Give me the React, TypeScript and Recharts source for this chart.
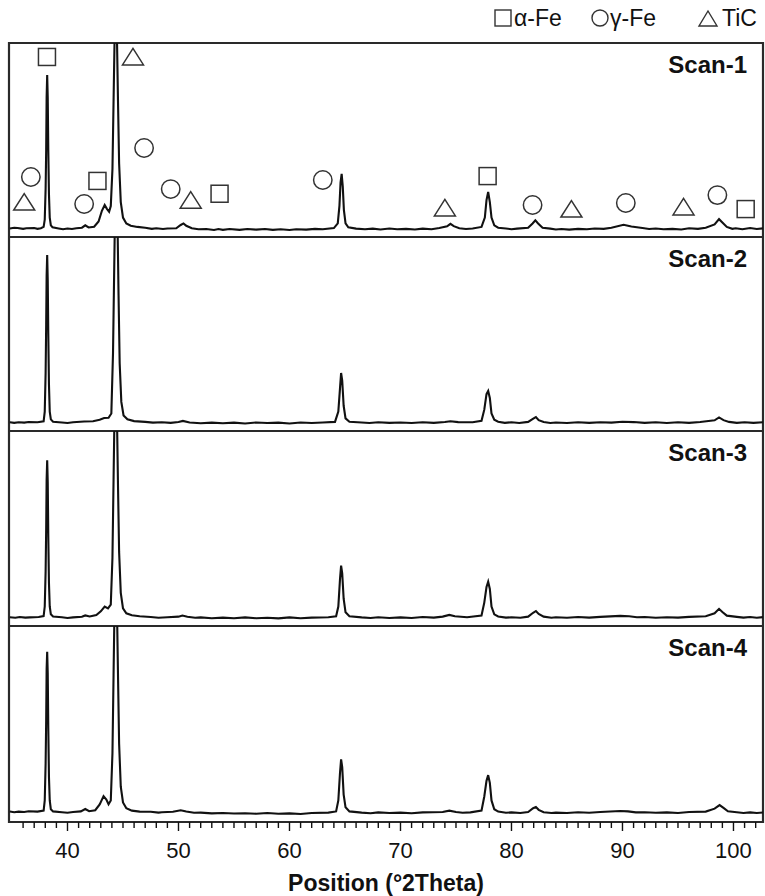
import React from 'react';
import { ComposedChart, Line, Scatter, XAxis, YAxis, ReferenceArea } from 'recharts';

// 2theta range and tick positions
const xDomain = [34.73, 102.66];
const xTicks = [36, 37, 38, 39, 40, 41, 42, 43, 44, 45, 46, 47, 48, 49, 50, 51, 52, 53, 54, 55, 56, 57, 58, 59, 60, 61, 62, 63, 64, 65, 66, 67, 68, 69, 70, 71, 72, 73, 74, 75, 76, 77, 78, 79, 80, 81, 82, 83, 84, 85, 86, 87, 88, 89, 90, 91, 92, 93, 94, 95, 96, 97, 98, 99, 100, 101, 102];

// intensities, % of panel height
const scan1 = [
  [34.8, 4.4], [35.2, 4.8], [35.5, 4.6], [36.0, 4.2], [36.3, 4.5], [37.0, 4.6], [37.3, 4.2], [37.6, 4.5], [37.85, 5.2], [37.95, 9], [38.03, 25], [38.08, 45], [38.12, 72], [38.17, 83.5], [38.22, 72], [38.27, 45], [38.33, 22], [38.4, 10], [38.5, 6], [38.65, 5],
  [39.2, 4.4], [39.6, 4.0], [40.0, 4.4], [40.4, 4.1], [40.8, 4.5], [41.3, 4.8], [41.6, 6.0], [41.9, 4.9], [42.4, 5.3], [42.8, 8], [43.1, 13.5], [43.35, 16.5], [43.55, 14.5], [43.75, 13], [43.9, 16],
  [44.05, 35], [44.15, 70], [44.25, 105], [44.35, 120], [44.45, 105], [44.55, 70], [44.65, 38], [44.8, 18], [45.0, 10], [45.3, 7], [45.7, 5.8], [46.3, 5.2], [47.0, 4.8], [47.6, 4.2], [48.0, 4.5], [48.6, 4.1], [49.0, 4.4], [49.8, 4.5],
  [50.2, 6.2], [50.45, 7.0], [50.7, 5.8], [51.2, 4.5], [51.8, 4.0], [52.5, 4.1], [53.2, 3.6], [53.6, 4.1], [54, 3.7], [54.6, 4.1], [55.5, 3.7], [56.2, 4.1], [57, 3.8], [57.8, 4.1], [58.5, 3.7], [59.2, 4.0], [60, 3.6], [60.6, 4.0], [61.5, 3.8], [62.3, 4.2], [63, 4.0], [64.0, 4.6],
  [64.35, 7], [64.5, 16], [64.6, 28], [64.7, 32.5], [64.8, 26], [64.9, 14], [65.05, 7], [65.3, 5], [66, 4.3], [66.8, 4.0], [67.5, 4.3], [68.2, 3.9], [69, 4.4], [69.7, 4.0], [70.5, 4.2], [71.3, 3.9], [72, 4.3], [72.8, 4.0], [73.5, 4.6],
  [74.2, 5.5], [74.5, 6.8], [74.8, 5.6], [75.3, 4.5], [75.9, 4.1], [76.5, 4.4], [77.3, 5.2], [77.6, 10], [77.75, 19], [77.9, 23.2], [78.05, 18], [78.2, 10], [78.45, 6], [78.8, 4.8],
  [79.5, 4.4], [80.0, 4.0], [80.5, 4.3], [81.5, 4.8], [81.9, 7], [82.15, 8.6], [82.4, 7], [82.8, 4.8], [83.5, 4.3], [84.0, 3.9], [84.5, 4.1], [85.2, 3.8], [86, 4.2], [86.8, 4.0], [87.5, 4.4], [88.3, 4.2], [89, 4.8], [90.1, 6.3], [90.8, 5.4],
  [91.8, 4.6], [92.4, 4.1], [93, 4.4], [93.7, 4.0], [94.5, 4.2], [95.3, 3.9], [96, 4.5], [96.8, 4.2], [97.5, 4.8], [98.3, 6.5], [98.7, 9.2], [99.0, 7.5], [99.4, 5.2], [99.9, 4.2], [100.2, 4.5], [100.8, 4.0], [101.5, 4.6], [102.1, 4.1], [102.7, 4.5],
];

const scan2 = [
  [34.8, 4.5], [35.2, 4.2], [35.6, 4.5], [36.1, 4.3], [36.5, 4.6], [37.3, 4.5], [37.85, 5], [37.95, 10], [38.03, 30], [38.08, 55], [38.12, 80], [38.17, 90.7], [38.22, 78], [38.27, 50], [38.33, 24], [38.4, 10], [38.5, 6], [38.7, 4.8],
  [39.5, 4.4], [40.0, 4.1], [40.5, 4.5], [41.5, 4.9], [42.3, 5.0], [42.9, 5.8], [43.3, 6.7], [43.7, 6.8], [43.95, 9], [44.1, 40], [44.2, 80], [44.3, 120], [44.4, 130], [44.5, 110], [44.6, 70], [44.7, 35],
  [44.85, 15], [45.05, 8], [45.4, 6], [46, 5.1], [47, 4.7], [47.7, 4.3], [48.5, 4.5], [49.3, 4.2], [50, 4.6], [50.4, 5.2], [51, 4.4], [52, 4.0], [53, 4.3], [54, 4.0], [55, 4.3], [56, 3.9], [57, 4.4], [58, 4.1], [59, 4.3], [60, 3.9], [61, 4.4], [62, 4.1], [63, 4.4],
  [64.1, 4.7], [64.4, 10], [64.55, 22], [64.65, 29.9], [64.75, 26], [64.88, 13], [65.05, 6.5], [65.4, 4.8], [66.5, 4.4], [67.2, 4.1], [68, 4.5], [69, 4.2], [70, 4.4], [71, 4.1], [72, 4.5], [73, 4.2], [74, 4.6], [74.5, 5.0], [75.2, 4.6],
  [76.5, 4.5], [77.3, 5.3], [77.55, 11], [77.75, 19], [77.9, 20.6], [78.05, 17], [78.2, 9], [78.45, 5.8], [78.8, 4.8], [79.4, 4.2], [80, 4.5], [80.7, 4.1], [81.5, 4.7], [82.0, 6.5], [82.2, 7.2], [82.45, 5.6],
  [82.9, 4.6], [83.5, 4.1], [84, 4.4], [85, 4.1], [86, 4.5], [87, 4.2], [88, 4.5], [89, 4.3], [90, 4.8], [91, 4.6], [92, 4.2], [93, 4.5], [94, 4.1], [95, 4.5], [96, 4.2], [97, 4.6], [98.3, 5.5], [98.7, 7.0], [99.1, 5.6], [99.6, 4.7], [100.3, 4.2], [101, 4.5], [101.8, 4.2], [102.7, 4.5],
];

const scan3 = [
  [34.8, 4.5], [35.3, 4.2], [35.7, 4.6], [36.2, 4.3], [36.6, 4.4], [37.4, 4.6], [37.85, 5.1], [37.95, 10], [38.03, 28], [38.08, 50], [38.12, 75], [38.17, 85], [38.22, 74], [38.27, 46], [38.33, 22], [38.4, 10], [38.5, 6], [38.7, 4.9],
  [39.5, 4.5], [40.0, 4.1], [40.5, 4.4], [41.3, 4.7], [41.6, 5.4], [42.0, 4.9], [42.6, 5.6], [43.0, 7.5], [43.35, 10], [43.65, 9], [43.9, 11], [44.05, 35], [44.15, 75], [44.25, 115], [44.35, 125], [44.45, 110],
  [44.55, 72], [44.65, 38], [44.8, 17], [45.0, 9], [45.3, 6.5], [45.8, 5.5], [46.5, 5.0], [47.5, 4.6], [48.2, 4.2], [49, 4.5], [50.0, 4.8], [50.35, 5.4], [50.8, 4.7], [51.5, 4.2], [52, 4.4], [53, 4.0], [54, 4.3], [55, 4.0], [56, 4.4],
  [57, 4.0], [58, 4.2], [59, 3.9], [60, 4.4], [61, 4.0], [62, 4.3], [63.5, 4.5], [64.2, 5], [64.4, 10], [64.55, 24], [64.65, 31], [64.75, 27], [64.88, 14], [65.05, 7], [65.4, 5], [66.5, 4.4], [67.3, 4.1], [68, 4.5], [69, 4.1], [70, 4.4],
  [71, 4.1], [72, 4.6], [73, 4.3], [73.8, 4.8], [74.4, 5.7], [74.9, 5.0], [76, 4.5], [77.3, 5.4], [77.55, 12], [77.75, 20], [77.9, 22.7], [78.05, 19], [78.2, 10], [78.45, 6], [78.8, 4.9], [79.5, 4.3], [80, 4.5],
  [80.8, 4.2], [81.5, 4.8], [81.95, 6.8], [82.2, 7.7], [82.45, 6.2], [82.9, 4.8], [83.6, 4.2], [84, 4.5], [85, 4.2], [86, 4.6], [87, 4.3], [88, 4.7], [89.8, 5.2], [90.6, 5.0], [91.3, 4.5], [92, 4.6], [93, 4.2], [94, 4.5], [95, 4.3], [96, 4.7], [97.5, 5.0],
  [98.3, 6.5], [98.7, 8.8], [99.0, 7.2], [99.4, 5.3], [100.3, 4.7], [100.9, 4.3], [101.5, 4.6], [102.1, 4.2], [102.7, 4.6],
];

const scan4 = [
  [34.8, 5.4], [35.2, 5.0], [35.6, 5.3], [36.1, 5.1], [36.5, 5.5], [37.3, 5.3], [37.85, 5.8], [37.95, 11], [38.03, 30], [38.08, 52], [38.12, 78], [38.17, 86.8], [38.22, 76], [38.27, 48], [38.33, 23], [38.4, 11], [38.5, 6.5], [38.7, 5.4],
  [39.5, 5.0], [40.0, 4.7], [40.5, 5.1], [41.2, 5.4], [41.6, 6.6], [41.95, 5.5], [42.5, 6.0], [42.9, 9], [43.25, 13.2], [43.5, 11.5], [43.7, 9.1], [43.9, 11], [44.05, 35], [44.15, 75], [44.25, 115],
  [44.35, 130], [44.45, 112], [44.55, 75], [44.65, 40], [44.8, 18], [45.0, 10], [45.3, 7], [45.8, 5.8], [46.5, 5.3], [47.5, 5.2], [48.2, 4.8], [48.5, 5.0], [49.5, 5.2], [50.2, 6.0], [50.7, 5.4],
  [51.4, 4.7], [52, 4.8], [53, 4.4], [54, 4.6], [55, 4.3], [56, 4.5], [57, 4.2], [58, 4.6], [59, 4.2], [60, 4.4], [61, 4.1], [62, 4.6], [63.5, 4.8], [64.2, 5.4], [64.4, 11], [64.55, 25], [64.65, 32], [64.75, 28], [64.88, 14], [65.05, 7.5], [65.4, 5.4],
  [66.5, 4.8], [67.3, 4.5], [68, 4.9], [69, 4.6], [70, 4.8], [71, 4.5], [72, 4.9], [73.8, 5.1], [74.4, 5.8], [75.0, 5.1], [75.6, 4.7], [76.3, 4.9], [77.3, 5.8], [77.55, 13], [77.75, 21], [77.9, 23.9], [78.05, 20], [78.2, 11],
  [78.45, 6.5], [78.8, 5.3], [79.5, 4.7], [80, 4.9], [80.8, 4.6], [81.5, 5.1], [81.95, 7], [82.2, 7.6], [82.45, 6.2], [82.9, 5.0], [83.6, 4.6], [84, 4.8], [85, 4.6], [86, 5.0], [87, 4.7], [88, 5.1], [89.8, 5.6], [90.5, 5.4], [91.2, 4.9], [92, 5.0],
  [93, 4.7], [94, 4.9], [95, 4.6], [96, 5.1], [97.5, 5.3], [98.3, 6.8], [98.75, 8.6], [99.1, 7.2], [99.5, 5.5], [100.3, 5.0], [100.9, 4.6], [101.5, 4.9], [102.1, 4.6], [102.7, 4.9],
];

// phase markers (scan-1 panel)
const alphaFe = [[38.15, 92.8], [42.7, 28.9], [53.7, 22.3], [77.85, 31.4], [101.1, 14.4]];
const gammaFe = [[36.7, 30.9], [41.5, 17], [46.9, 45.9], [49.3, 24.7], [63.0, 29.4], [81.9, 16.5], [90.3, 17.5], [98.55, 21.6]];
const tiC = [[36.1, 18], [45.9, 92.8], [51.1, 19], [74.0, 15], [85.4, 14.4], [95.5, 15.5]];

const scanNames = ['Scan-1', 'Scan-2', 'Scan-3', 'Scan-4'];
const phaseNames = ['α-Fe', 'γ-Fe', 'TiC'];

const FONT = '"Liberation Sans", Arial, sans-serif';
const INK = '#111';
const MARK = '#333';

const toPts = (arr) => arr.map(([x, y]) => ({ x, y }));

const Square = ({ cx, cy }) => <rect x={cx - 8.5} y={cy - 8.5} width={17} height={17} fill="none" stroke={MARK} strokeWidth={1.5} />;
const Circle = ({ cx, cy }) => <circle cx={cx} cy={cy} r={9.2} fill="none" stroke={MARK} strokeWidth={1.5} />;
const Triangle = ({ cx, cy }) => (
  <polygon points={`${cx - 10.5},${cy + 8} ${cx + 10.5},${cy + 8} ${cx},${cy - 8.5}`} fill="none" stroke={MARK} strokeWidth={1.5} />
);

const XTick = ({ x, y, payload }) => {
  const major = payload.value % 10 === 0;
  return (
    <g>
      <line x1={x} x2={x} y1={y} y2={y + (major ? 9 : 6)} stroke={INK} strokeWidth={1.4} />
      {major && (
        <text x={x} y={y + 36} textAnchor="middle" fontFamily={FONT} fontSize={22} fill={INK}>{payload.value}</text>
      )}
    </g>
  );
};

const ScanLabel = (name) => ({ viewBox }) => (
  <text x={viewBox.x + viewBox.width - 16} y={viewBox.y + 30} textAnchor="end" fontFamily={FONT} fontWeight="bold" fontSize={24} fill={INK}>{name}</text>
);

const AxisTitle = ({ viewBox }) => (
  <text x={viewBox.x + viewBox.width / 2} y={viewBox.y + viewBox.height - 5} textAnchor="middle" fontFamily={FONT} fontWeight="bold" fontSize={23} fill={INK}>Position (°2Theta)</text>
);

const panels = [
  { data: scan1, top: 0, height: 237, mTop: 43, axis: false },
  { data: scan2, top: 237, height: 194, mTop: 0, axis: false },
  { data: scan3, top: 431, height: 195, mTop: 0, axis: false },
  { data: scan4, top: 626, height: 270, mTop: 0, axis: true },
];

const Panel = ({ p, idx }) => (
  <div style={{ position: 'absolute', left: 0, top: p.top }}>
    <ComposedChart width={765} height={p.height} margin={{ top: p.mTop, right: 2, bottom: 0, left: 9 }}>
      <XAxis
        type="number"
        dataKey="x"
        domain={xDomain}
        allowDataOverflow
        ticks={xTicks}
        interval={0}
        hide={!p.axis}
        height={74}
        axisLine={false}
        tickLine={false}
        tickSize={0}
        tickMargin={0}
        tick={<XTick />}
        label={<AxisTitle />}
      />
      <YAxis type="number" domain={[0, 100]} allowDataOverflow hide />
      <ReferenceArea x1={xDomain[0]} x2={xDomain[1]} y1={0} y2={100} fill="none" stroke="#2a2a2a" strokeWidth={2.2} label={ScanLabel(scanNames[idx])} />
      <Line data={toPts(p.data)} dataKey="y" type="linear" stroke={INK} strokeWidth={2.1} dot={false} isAnimationActive={false} />
      {idx === 0 && <Scatter data={toPts(alphaFe)} dataKey="y" shape={<Square />} isAnimationActive={false} />}
      {idx === 0 && <Scatter data={toPts(gammaFe)} dataKey="y" shape={<Circle />} isAnimationActive={false} />}
      {idx === 0 && <Scatter data={toPts(tiC)} dataKey="y" shape={<Triangle />} isAnimationActive={false} />}
    </ComposedChart>
  </div>
);

const PhaseLegend = () => (
  <svg width={765} height={40} style={{ position: 'absolute', left: 0, top: 0 }}>
    <rect x={495} y={10} width={16} height={16} fill="none" stroke={MARK} strokeWidth={1.4} />
    <text x={514} y={26} fontFamily={FONT} fontSize={23} fill={INK}>{phaseNames[0]}</text>
    <circle cx={600} cy={18} r={8} fill="none" stroke={MARK} strokeWidth={1.4} />
    <text x={610} y={26} fontFamily={FONT} fontSize={23} fill={INK}>{phaseNames[1]}</text>
    <polygon points="699,26 717,26 708,11" fill="none" stroke={MARK} strokeWidth={1.4} />
    <text x={722} y={26} fontFamily={FONT} fontSize={23} fill={INK}>{phaseNames[2]}</text>
  </svg>
);

export default function App() {
  return (
    <div style={{ position: 'absolute', left: 0, top: 0, width: 765, height: 896, background: '#fff' }}>
      {panels.map((p, i) => <Panel key={i} p={p} idx={i} />)}
      <PhaseLegend />
    </div>
  );
}
